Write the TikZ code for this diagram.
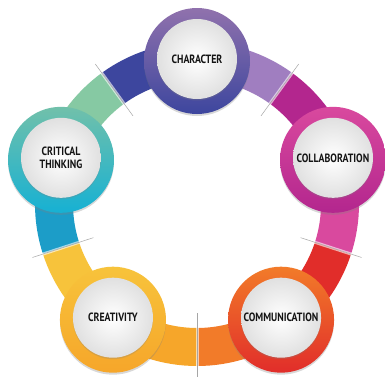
\documentclass[tikz,border=0pt]{standalone}
\usepackage{fontspec}
\setmainfont{PT Sans}[FakeStretch=0.82]
\usetikzlibrary{shadows}
\definecolor{cPurpleL}{HTML}{A07EC0}
\definecolor{cMagenta}{HTML}{B3268E}
\definecolor{cPink}{HTML}{D9499E}
\definecolor{cRed}{HTML}{E12D2A}
\definecolor{cOrange}{HTML}{F27B29}
\definecolor{cAmber}{HTML}{F6A62A}
\definecolor{cYellow}{HTML}{F7C33B}
\definecolor{cBlue}{HTML}{1C9DC8}
\definecolor{cGreen}{HTML}{86C9A3}
\definecolor{cIndigo}{HTML}{3D469E}
\tikzset{
  band/.style={line width=38pt},
  divider/.style={draw=black!35, line width=0.5pt},
  glow/.style={draw=white, line width=3pt, opacity=0.6},
  bubble/.style={circle, minimum size=106pt, inner sep=0pt,
    drop shadow={opacity=0.3, shadow xshift=0pt, shadow yshift=-2pt}},
  disk/.style={circle, minimum size=80pt, inner sep=0pt, inner color=white,
    outer color=black!12, text=black!92, align=center,
    font=\fontsize{12}{13}\selectfont\bfseries,
    drop shadow={opacity=0.25, shadow xshift=0pt, shadow yshift=-1.5pt}},
}
\begin{document}
\begin{tikzpicture}[x=1pt,y=1pt]
\useasboundingbox (0,0) rectangle (385,376);
\fill[white] (0,0) rectangle (385,376);
\begin{scope}[shift={(197,172)}]
  \coordinate (C) at (0,0);
  % ring band segments
  \foreach \a/\b/\c in {90/54/cPurpleL, 54/18/cMagenta, 18/-18/cPink,
      -18/-54/cRed, -54/-90/cOrange, -90/-126/cAmber, -126/-162/cYellow,
      -162/-198/cBlue, 162/126/cGreen, 126/90/cIndigo}
    \draw[band, draw=\c] (\a:143) arc[start angle=\a, end angle=\b, radius=143];
  % dividers
  \foreach \a in {54,-18,-90,-162,126} {
    \draw[glow] (\a:112) -- (\a:172);
    \draw[divider] (\a:109) -- (\a:173);
  }
  % bubbles
  \node[bubble, top color=cPurpleL!90!black, bottom color=cIndigo] (character) at (90:143) {};
  \node[bubble, top color=cPink, bottom color=cMagenta] (collab) at (18:143) {};
  \node[bubble, top color=cOrange, bottom color=cRed] (comm) at (-54:143) {};
  \node[bubble, top color=cYellow, bottom color=cAmber] (creat) at (-126:143) {};
  \node[bubble, top color=cGreen!80!cBlue, bottom color=cBlue!80!cyan] (crit) at (162:143) {};
  \node[disk] (characterT) at ([yshift=2pt]character.center) {CHARACTER};
  \node[disk] (collabT) at ([yshift=2pt]collab.center) {COLLABORATION};
  \node[disk] (commT) at ([yshift=2pt]comm.center) {COMMUNICATION};
  \node[disk] (creatT) at ([yshift=2pt]creat.center) {CREATIVITY};
  \node[disk] (critT) at ([yshift=2pt]crit.center) {CRITICAL\\THINKING};
\end{scope}
\end{tikzpicture}
\end{document}
